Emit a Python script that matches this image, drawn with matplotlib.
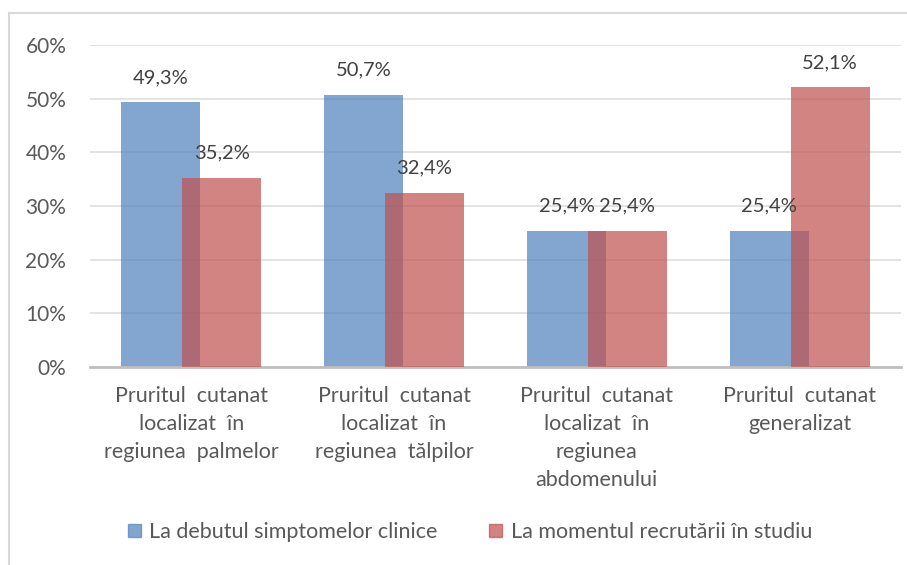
import matplotlib.pyplot as plt
from matplotlib.lines import Line2D
import numpy as np

plt.rcParams['font.family'] = ['Lato', 'DejaVu Sans']

categories = ["Pruritul  cutanat\nlocalizat  în\nregiunea  palmelor",
              "Pruritul  cutanat\nlocalizat  în\nregiunea  tălpilor",
              "Pruritul  cutanat\nlocalizat  în\nregiunea\nabdomenului",
              "Pruritul  cutanat\ngeneralizat"]
debut = [49.3, 50.7, 25.4, 25.4]
recrutare = [35.2, 32.4, 25.4, 52.1]
series_names = ["La debutul simptomelor clinice", "La momentul recrutării în studiu"]

txt = '#595959'

fig = plt.figure(figsize=(9.07, 5.65), dpi=100)
ax = fig.add_axes([0.0992, 0.3504, 0.8942, 0.57])

x = np.arange(len(categories))
w = 0.39
off = 0.15
b1 = ax.bar(x - off, debut, w, color='#4F81BD', alpha=0.7, zorder=2, label=series_names[0])
b2 = ax.bar(x + off, recrutare, w, color='#C0504D', alpha=0.7, zorder=3, label=series_names[1])

for bars, vals in ((b1, debut), (b2, recrutare)):
    for r, v in zip(bars, vals):
        ax.annotate(f"{v:.1f}%".replace('.', ','), (r.get_x() + r.get_width() / 2, v),
                    xytext=(0, 18), textcoords='offset points', ha='center', va='center',
                    fontsize=14.5, color='#404040', zorder=5)

ax.set_ylim(0, 60)
ax.set_xlim(-0.5, 3.5)
ax.set_yticks(range(0, 61, 10))
ax.set_yticklabels([f"{t}%" for t in range(0, 61, 10)])
ax.set_xticks(x)
ax.set_xticklabels(categories, fontsize=15.5, color=txt, linespacing=1.5, va='top')
ax.tick_params(axis='y', length=0, pad=17, labelsize=15, labelcolor=txt)
ax.tick_params(axis='x', length=0, pad=14)
ax.grid(axis='y', color='#e3e3e3', linewidth=1.4, zorder=0)
ax.set_axisbelow(True)
for s in ['top', 'right', 'left']:
    ax.spines[s].set_visible(False)
ax.spines['bottom'].set_color('#bfbfbf')
ax.spines['bottom'].set_linewidth(2)

handles = [plt.Rectangle((0, 0), 1, 1, color='#4F81BD', alpha=0.7),
           plt.Rectangle((0, 0), 1, 1, color='#C0504D', alpha=0.7)]
fig.legend(handles, series_names, loc='center', bbox_to_anchor=(0.518, 1 - 532 / 565), ncol=2,
           frameon=False, fontsize=15.5, labelcolor=txt, handlelength=0.6, handleheight=0.6,
           handletextpad=0.4, columnspacing=2.4)

# outer border (left and top only)
fig.add_artist(Line2D([9 / 907, 9 / 907], [0, 1 - 13 / 565], color='#d9d9d9', lw=1.5))
fig.add_artist(Line2D([9 / 907, 1], [1 - 13 / 565, 1 - 13 / 565], color='#d9d9d9', lw=1.5))

fig.savefig('out.png', dpi=100)
